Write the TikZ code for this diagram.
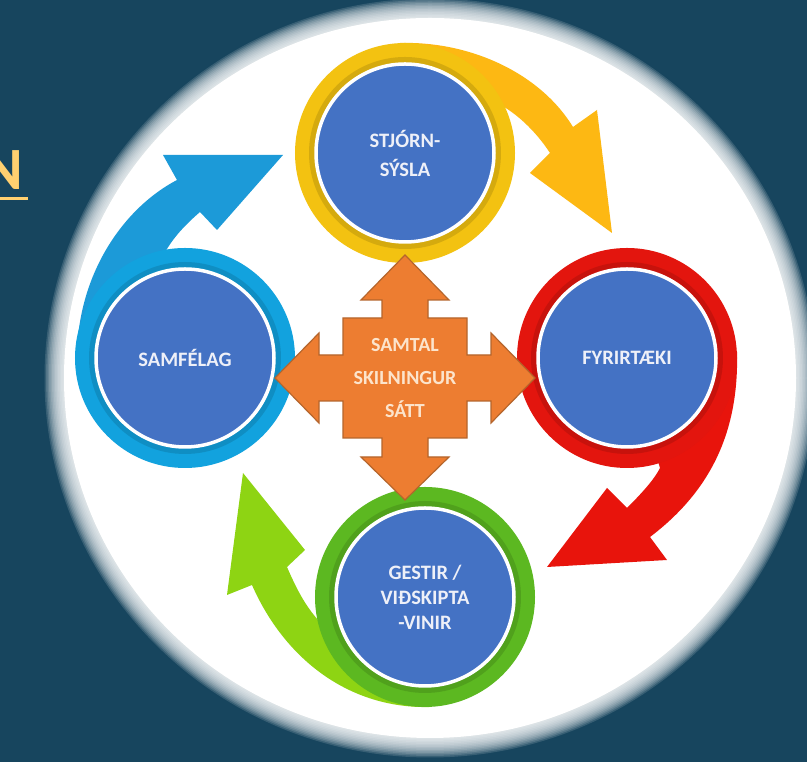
\documentclass[tikz,border=0pt]{standalone}
\usepackage{fontspec}
\setmainfont{Carlito}

\definecolor{bgteal}{HTML}{17455E}
\definecolor{titlegold}{HTML}{FFD070}
\definecolor{hubblue}{HTML}{4472C4}
\definecolor{hubtext}{HTML}{EEF0F8}
\definecolor{ringyellow}{HTML}{F3C211}
\definecolor{arrowyellow}{HTML}{FDB813}
\definecolor{ringred}{HTML}{E3150E}
\definecolor{arrowred}{HTML}{E8140C}
\definecolor{ringgreen}{HTML}{5CB821}
\definecolor{arrowgreen}{HTML}{8ED413}
\definecolor{ringblue}{HTML}{12A2DE}
\definecolor{arrowblue}{HTML}{1C9AD8}
\definecolor{crossorange}{HTML}{ED7D31}
\definecolor{crossline}{HTML}{B5652C}
\definecolor{crosstext}{HTML}{FCE4CC}

\begin{document}
\begin{tikzpicture}[x=1pt,y=1pt,
    hub/.style={circle, fill=hubblue, draw=white, line width=3.5pt,
      minimum size=178pt, inner sep=0pt, text=hubtext, align=center,
      font=\bfseries\fontsize{20.5}{29}\selectfont},
    ring/.style={line width=20pt},
    band/.style={line join=round}]
    \useasboundingbox (0,0) rectangle (807,762);
    \clip (0,0) rectangle (807,762);
    \fill[bgteal] (0,0) rectangle (807,762);

    % soft white oval
    \foreach \k in {0,...,13}
        \fill[white, opacity=0.14] (430,384) ellipse ({366+1.5*\k} and {360+1.5*\k});
    \fill[white] (430,384) ellipse (366 and 360);

    % title fragment
    \node[anchor=base east, inner sep=0pt, text=titlegold,
      font=\bfseries\fontsize{60}{60}\selectfont] (title) at (23,572) {N};
    \draw[titlegold, line width=3pt] ([yshift=-9pt]title.base west) -- ([yshift=-9pt, xshift=5pt]title.base east);

    \coordinate (T) at (405,609);
    \coordinate (L) at (185,404);
    \coordinate (R) at (627,404);
    \coordinate (B) at (425,165);
    \coordinate (X) at (405,384);

    % curved arrows
    \fill[band, arrowyellow] (400,719) .. controls (470,721) and (540,689) .. (573,635)
        -- (597,652) -- (612,529) -- (530,589) -- (550,609)
        .. controls (535,632) and (515,650) .. (497,659) -- (T) -- cycle;
    \fill[band, arrowred] (737,410) .. controls (739,332) and (712,272) .. (650,225)
        -- (667,202) -- (547,195) -- (607,274) -- (627,254)
        .. controls (645,272) and (655,284) .. (660,294) -- (R) -- cycle;
    \fill[band, arrowgreen] (430,55) .. controls (350,53) and (285,102) .. (252,177)
        -- (227,167) -- (243,289) -- (305,212) -- (287,195)
        .. controls (297,172) and (305,157) .. (318,142) -- (B) -- cycle;
    \fill[band, arrowblue] (77,398) .. controls (75,482) and (120,552) .. (177,582)
        -- (163,607) -- (283,607) -- (217,532) -- (200,550)
        .. controls (185,537) and (170,522) .. (160,500) -- (L) -- cycle;

    % rings
    \foreach \c/\col in {T/ringyellow, L/ringblue, R/ringred, B/ringgreen} {
        \draw[ring, draw=\col] (\c) circle (100);
        \draw[line width=6pt, draw=black, opacity=0.12] (\c) circle (93);
    }

    \node[hub] (stjorn) at (T) {STJÓRN-\\SÝSLA};
    \node[hub] (samfelag) at (L) {SAMFÉLAG};
    \node[hub] (fyrirtaeki) at (R) {FYRIRTÆKI};
    \node[hub, font=\bfseries\fontsize{20.5}{25}\selectfont] (gestir) at (B) {GESTIR /\\VIÐSKIPTA\\-VINIR};

    % four-way arrow
    \draw[fill=crossorange, draw=crossline, line width=1.2pt, line join=miter, shift={(X)}]
        (0,123) -- (44,78) -- (23,78) -- (23,60) -- (62,60) -- (62,23) -- (86,23)
        -- (86,45) -- (130,0) -- (86,-45) -- (86,-23) -- (62,-23) -- (62,-60)
        -- (23,-60) -- (23,-79) -- (44,-79) -- (0,-122) -- (-44,-79) -- (-23,-79)
        -- (-23,-60) -- (-62,-60) -- (-62,-23) -- (-86,-23) -- (-86,-45) -- (-130,0)
        -- (-86,45) -- (-86,23) -- (-62,23) -- (-62,60) -- (-23,60) -- (-23,78)
        -- (-44,78) -- cycle;
    \node[align=center, text=crosstext, font=\bfseries\fontsize{20}{33}\selectfont] (talk) at (X) {SAMTAL\\SKILNINGUR\\SÁTT};
\end{tikzpicture}
\end{document}
